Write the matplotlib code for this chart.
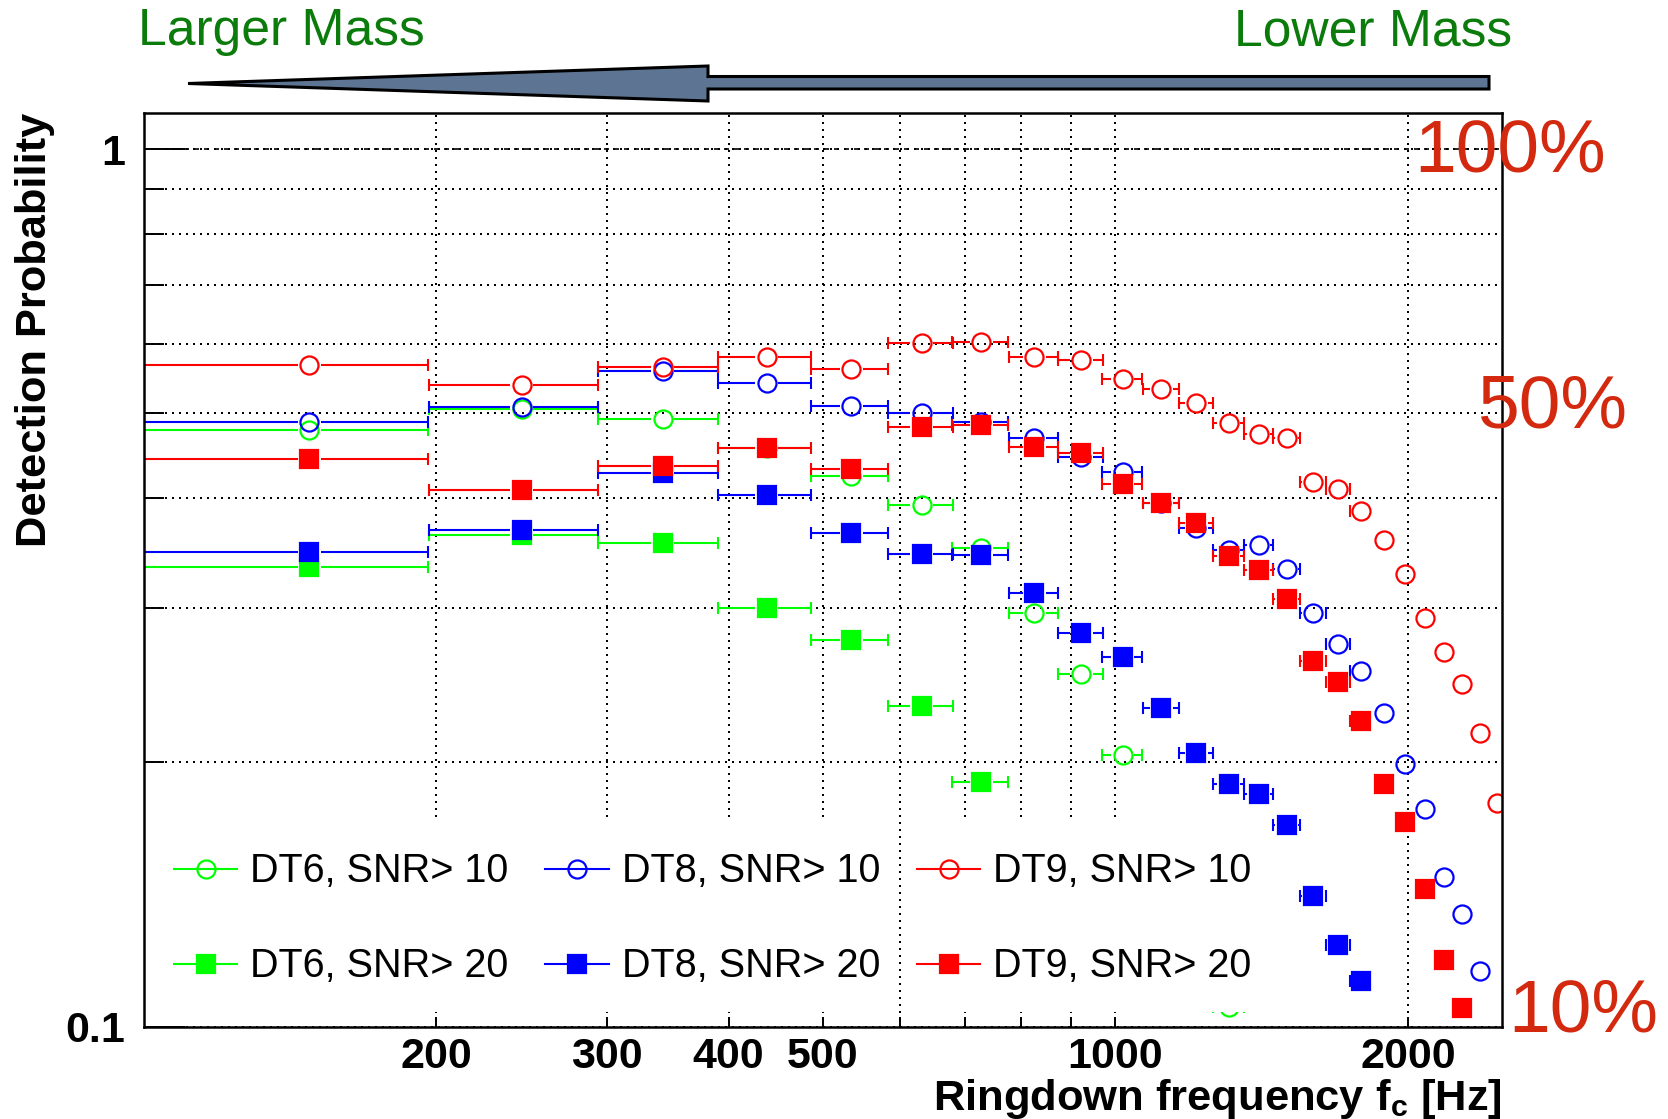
import numpy as np
import matplotlib
matplotlib.use("Agg")
import matplotlib.pyplot as plt
from matplotlib.collections import LineCollection
from matplotlib.lines import Line2D
from matplotlib.patches import Polygon, Rectangle
from matplotlib.ticker import FixedLocator, FixedFormatter, NullLocator, NullFormatter

plt.rcParams["font.family"] = ["Liberation Sans", "DejaVu Sans"]
plt.rcParams["mathtext.fontset"] = "custom"
plt.rcParams["mathtext.rm"] = "Liberation Sans:bold"
plt.rcParams["mathtext.it"] = "Liberation Sans:bold"
plt.rcParams["mathtext.bf"] = "Liberation Sans:bold"

W, H, DPI = 1668, 1119, 100

# ringdown frequency bins (centres, Hz) and half bin width
freq = [148, 245, 342, 438, 535, 632, 728, 825, 922, 1018, 1115, 1212, 1308,
        1405, 1502, 1598, 1695, 1792, 1888, 1985, 2082, 2178, 2275, 2372, 2468]
bin_half = 48.3
nan = np.nan

# detection probability per bin (nan = not shown)
dt6_snr10 = [0.478, 0.506, 0.493, 0.457, 0.424, 0.393, 0.351, 0.296, 0.252, 0.204,
             nan, nan, 0.1052]
dt6_snr20 = [0.334, 0.363, 0.356, 0.300, 0.276, 0.232, 0.190]
dt8_snr10 = [0.489, 0.508, 0.558, 0.542, 0.510, 0.500, 0.489, 0.468, 0.446, 0.429,
             0.395, 0.370, 0.349, 0.354, 0.332, 0.296, 0.273, 0.254, 0.228, 0.199,
             0.177, 0.148, 0.1345, 0.1156]
dt8_snr20 = [0.347, 0.368, 0.428, 0.403, 0.365, 0.346, 0.345, 0.312, 0.281, 0.264,
             0.231, 0.205, 0.189, 0.184, 0.1696, 0.141, 0.124, 0.1128]
dt9_snr10 = [0.567, 0.539, 0.564, 0.580, 0.561, 0.601, 0.603, 0.580, 0.575, 0.547,
             0.533, 0.513, 0.488, 0.474, 0.468, 0.418, 0.410, 0.387, 0.359, 0.328,
             0.292, 0.267, 0.246, 0.216, 0.180]
dt9_snr20 = [0.443, 0.409, 0.435, 0.456, 0.432, 0.482, 0.485, 0.458, 0.451, 0.415,
             0.395, 0.375, 0.344, 0.331, 0.307, 0.261, 0.247, 0.223, 0.189, 0.171,
             0.1434, 0.119, 0.105]

series = [
    (dt6_snr10, "#00ff00", "o", "DT6, SNR> 10"),
    (dt6_snr20, "#00ff00", "s", "DT6, SNR> 20"),
    (dt8_snr10, "#0000ff", "o", "DT8, SNR> 10"),
    (dt8_snr20, "#0000ff", "s", "DT8, SNR> 20"),
    (dt9_snr10, "#ff0000", "o", "DT9, SNR> 10"),
    (dt9_snr20, "#ff0000", "s", "DT9, SNR> 20"),
]

xticks = [200, 300, 400, 500, 600, 700, 800, 900, 1000, 2000]
xticklabels = ["200", "300", "400", "500", "", "", "", "", "1000", "2000"]
ygrid = [0.2, 0.3, 0.4, 0.5, 0.6, 0.7, 0.8, 0.9]

XMIN, XMAX, YMIN, YMAX = 100, 2500, 0.1, 1.1


def px(x, y):
    """pixel position (origin top-left) -> figure fraction"""
    return x / W, 1 - y / H


fig = plt.figure(figsize=(W / DPI, H / DPI), dpi=DPI)
left, right, top, bottom = 143.6, 1502, 112.8, 1026.6
ax = fig.add_axes([left / W, 1 - bottom / H, (right - left) / W, (bottom - top) / H])
ax.set_xscale("log")
ax.set_yscale("log")
ax.set_xlim(XMIN, XMAX)
ax.set_ylim(YMIN, YMAX)

dot = (0, (1, 2.5))
ax.set_axisbelow(True)
ax.xaxis.set_major_locator(FixedLocator(xticks))
ax.xaxis.set_major_formatter(FixedFormatter(xticklabels))
ax.xaxis.set_minor_locator(NullLocator())
ax.yaxis.set_major_locator(FixedLocator([0.1, 1.0]))
ax.yaxis.set_major_formatter(FixedFormatter(["0.1", "1"]))
ax.yaxis.set_minor_locator(FixedLocator(ygrid))
ax.yaxis.set_minor_formatter(NullFormatter())
ax.grid(True, axis="x", which="major", color="k", lw=1.44, ls=dot)
ax.grid(True, axis="y", which="both", color="k", lw=1.44, ls=dot)
ax.axhline(1.0, color="k", lw=1.2, ls=(0, (3, 3)), zorder=1)

ax.tick_params(axis="x", which="major", direction="in", length=7.2, width=1.4,
               pad=7.5, labelsize=31, top=False)
ax.tick_params(axis="y", which="major", direction="in", length=29.5, width=1.4,
               pad=13, labelsize=31, right=False)
ax.tick_params(axis="y", which="minor", direction="in", length=14.4, width=1.4,
               right=False)
for lab in ax.get_xticklabels() + ax.get_yticklabels():
    lab.set_fontweight("bold")
for sp in ax.spines.values():
    sp.set_linewidth(1.8)
    sp.set_zorder(6)

# horizontal error bars stop at the marker edge, like ROOT draws them
per_decade = (right - left) / np.log10(XMAX / XMIN)
gap = 10 ** (11.5 / per_decade)

for vals, color, marker, label in series:
    y = np.array(vals, dtype=float)
    x = np.array(freq[: len(y)], dtype=float)
    ok = ~np.isnan(y)
    x, y = x[ok], y[ok]
    lo, hi = x - bin_half, x + bin_half
    segs, cx, cy = [], [], []
    for xi, yi, l, h in zip(x, y, lo, hi):
        if l < xi / gap:
            segs.append([(l, yi), (xi / gap, yi)])
            cx.append(l)
            cy.append(yi)
        if h > xi * gap:
            segs.append([(xi * gap, yi), (h, yi)])
            cx.append(h)
            cy.append(yi)
    ax.add_collection(LineCollection(segs, colors=color, linewidths=1.5, zorder=3))
    ax.plot(cx, cy, ls="none", marker="|", ms=8, mew=1.5, color=color, zorder=3)
    ax.plot(x, y, ls="none", marker=marker, ms=13, mew=1.6, mec=color,
            mfc="none" if marker == "o" else color, zorder=3)

# legend area is painted white over the grid
ax.add_patch(Rectangle((0, 0.016), 0.8255, 0.2134, transform=ax.transAxes,
                       facecolor="white", edgecolor="none", zorder=4))
ax.axvline(600, color="k", lw=1.44, ls=dot, zorder=4.5)

handles = [Line2D([], [], color=c, lw=1.5, marker=m, ms=13, mew=1.6, mec=c,
                  mfc="none" if m == "o" else c) for _, c, m, _ in series]
labels = [s[3] for s in series]
ax.legend(handles, labels, ncol=3, loc="upper left", bbox_to_anchor=(0.0224, 0.1906),
          frameon=False, fontsize=28.5, handlelength=1.6, handletextpad=0.33,
          columnspacing=0.93, labelspacing=1.44, borderpad=0, borderaxespad=0)

# axis titles
fig.text(*px(1502, 1110), r"Ringdown frequency f$_{\mathrm{c}}$ [Hz]", fontsize=31.3,
         fontweight="bold", ha="right", va="baseline")
fig.text(*px(35, 113), "Detection Probability", fontsize=31.2, fontweight="bold",
         rotation=90, ha="center", va="top")

# mass direction arrow
arrow_px = [(188, 83.5), (708, 66), (708, 76.5), (1489, 76.5), (1489, 89),
            (708, 89), (708, 101)]
fig.add_artist(Polygon([px(x, y) for x, y in arrow_px], closed=True,
                       transform=fig.transFigure, facecolor="#5d7593",
                       edgecolor="black", lw=2.2, joinstyle="miter"))
green = "#0b7b0b"
fig.text(*px(138, 45), "Larger Mass", color=green, fontsize=37.2, ha="left", va="baseline")
fig.text(*px(1234, 45), "Lower Mass", color=green, fontsize=37.2, ha="left", va="baseline")

red = "#d2290f"
fig.text(*px(1414, 172), "100%", color=red, fontsize=54, ha="left", va="baseline")
fig.text(*px(1478, 428), "50%", color=red, fontsize=54, ha="left", va="baseline")
fig.text(*px(1508, 1032), "10%", color=red, fontsize=54, ha="left", va="baseline")

fig.savefig("out.png", dpi=DPI)
